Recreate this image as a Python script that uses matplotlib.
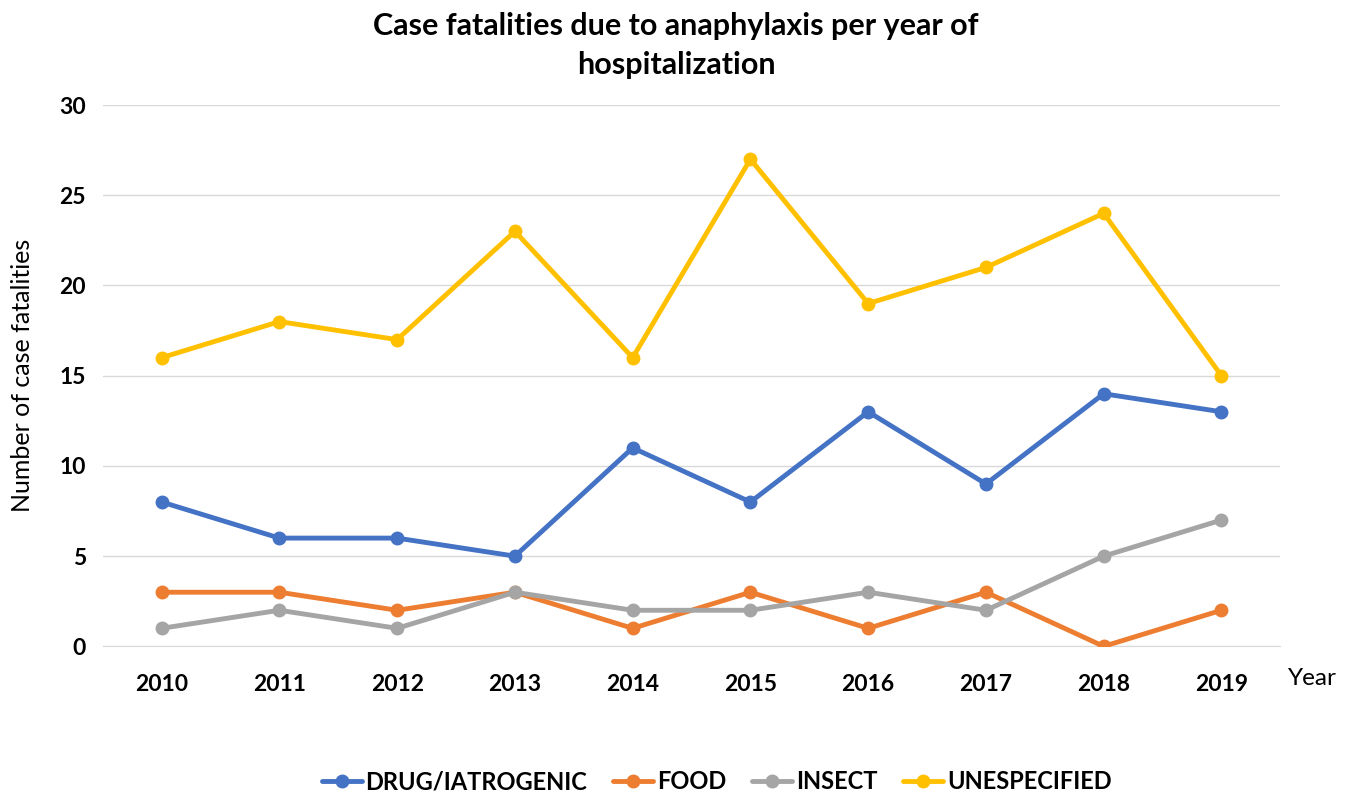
import matplotlib.pyplot as plt

plt.rcParams['font.family'] = ['Lato', 'DejaVu Sans']

years = ['2010', '2011', '2012', '2013', '2014', '2015', '2016', '2017', '2018', '2019']
drug = [8, 6, 6, 5, 11, 8, 13, 9, 14, 13]
food = [3, 3, 2, 3, 1, 3, 1, 3, 0, 2]
insect = [1, 2, 1, 3, 2, 2, 3, 2, 5, 7]
unspecified = [16, 18, 17, 23, 16, 27, 19, 21, 24, 15]

series = [
    ('DRUG/IATROGENIC', drug, '#4472C4'),
    ('FOOD', food, '#ED7D31'),
    ('INSECT', insect, '#A5A5A5'),
    ('UNESPECIFIED', unspecified, '#FFC000'),
]

fig = plt.figure(figsize=(13.52, 7.96), dpi=100)
ax = fig.add_axes([0.076, 0.188, 0.871, 0.680])

x = range(len(years))
for name, vals, color in series:
    ax.plot(x, vals, color=color, linewidth=3.5, marker='o', markersize=9,
            label=name, solid_capstyle='round', zorder=3)

ax.set_xlim(-0.5, len(years) - 0.5)
ax.set_ylim(0, 30)
ax.set_yticks(range(0, 31, 5))
ax.set_xticks(list(x))
ax.set_xticklabels(years)
ax.grid(axis='y', color='#D9D9D9', linewidth=1)
ax.set_axisbelow(True)
for s in ['top', 'right', 'left']:
    ax.spines[s].set_visible(False)
ax.spines['bottom'].set_color('#D9D9D9')
ax.tick_params(length=0, labelsize=16.5)
for lbl in ax.get_xticklabels() + ax.get_yticklabels():
    lbl.set_fontweight('bold')
ax.tick_params(axis='x', pad=20)
ax.tick_params(axis='y', pad=12)

ax.set_ylabel('Number of case fatalities', fontsize=18, labelpad=18)
fig.text(0.953, 0.148, 'Year', fontsize=17.5, ha='left', va='center')

fig.suptitle('Case fatalities due to anaphylaxis per year of\nhospitalization',
             fontsize=22, fontweight='bold', y=0.985, linespacing=1.5)

leg = fig.legend(loc='center', bbox_to_anchor=(0.53, 0.018), ncol=4, frameon=False,
                 prop={'weight': 'bold', 'size': 17}, handlelength=1.7,
                 columnspacing=1.1, handletextpad=0.15)

fig.savefig('out.png', dpi=100)
